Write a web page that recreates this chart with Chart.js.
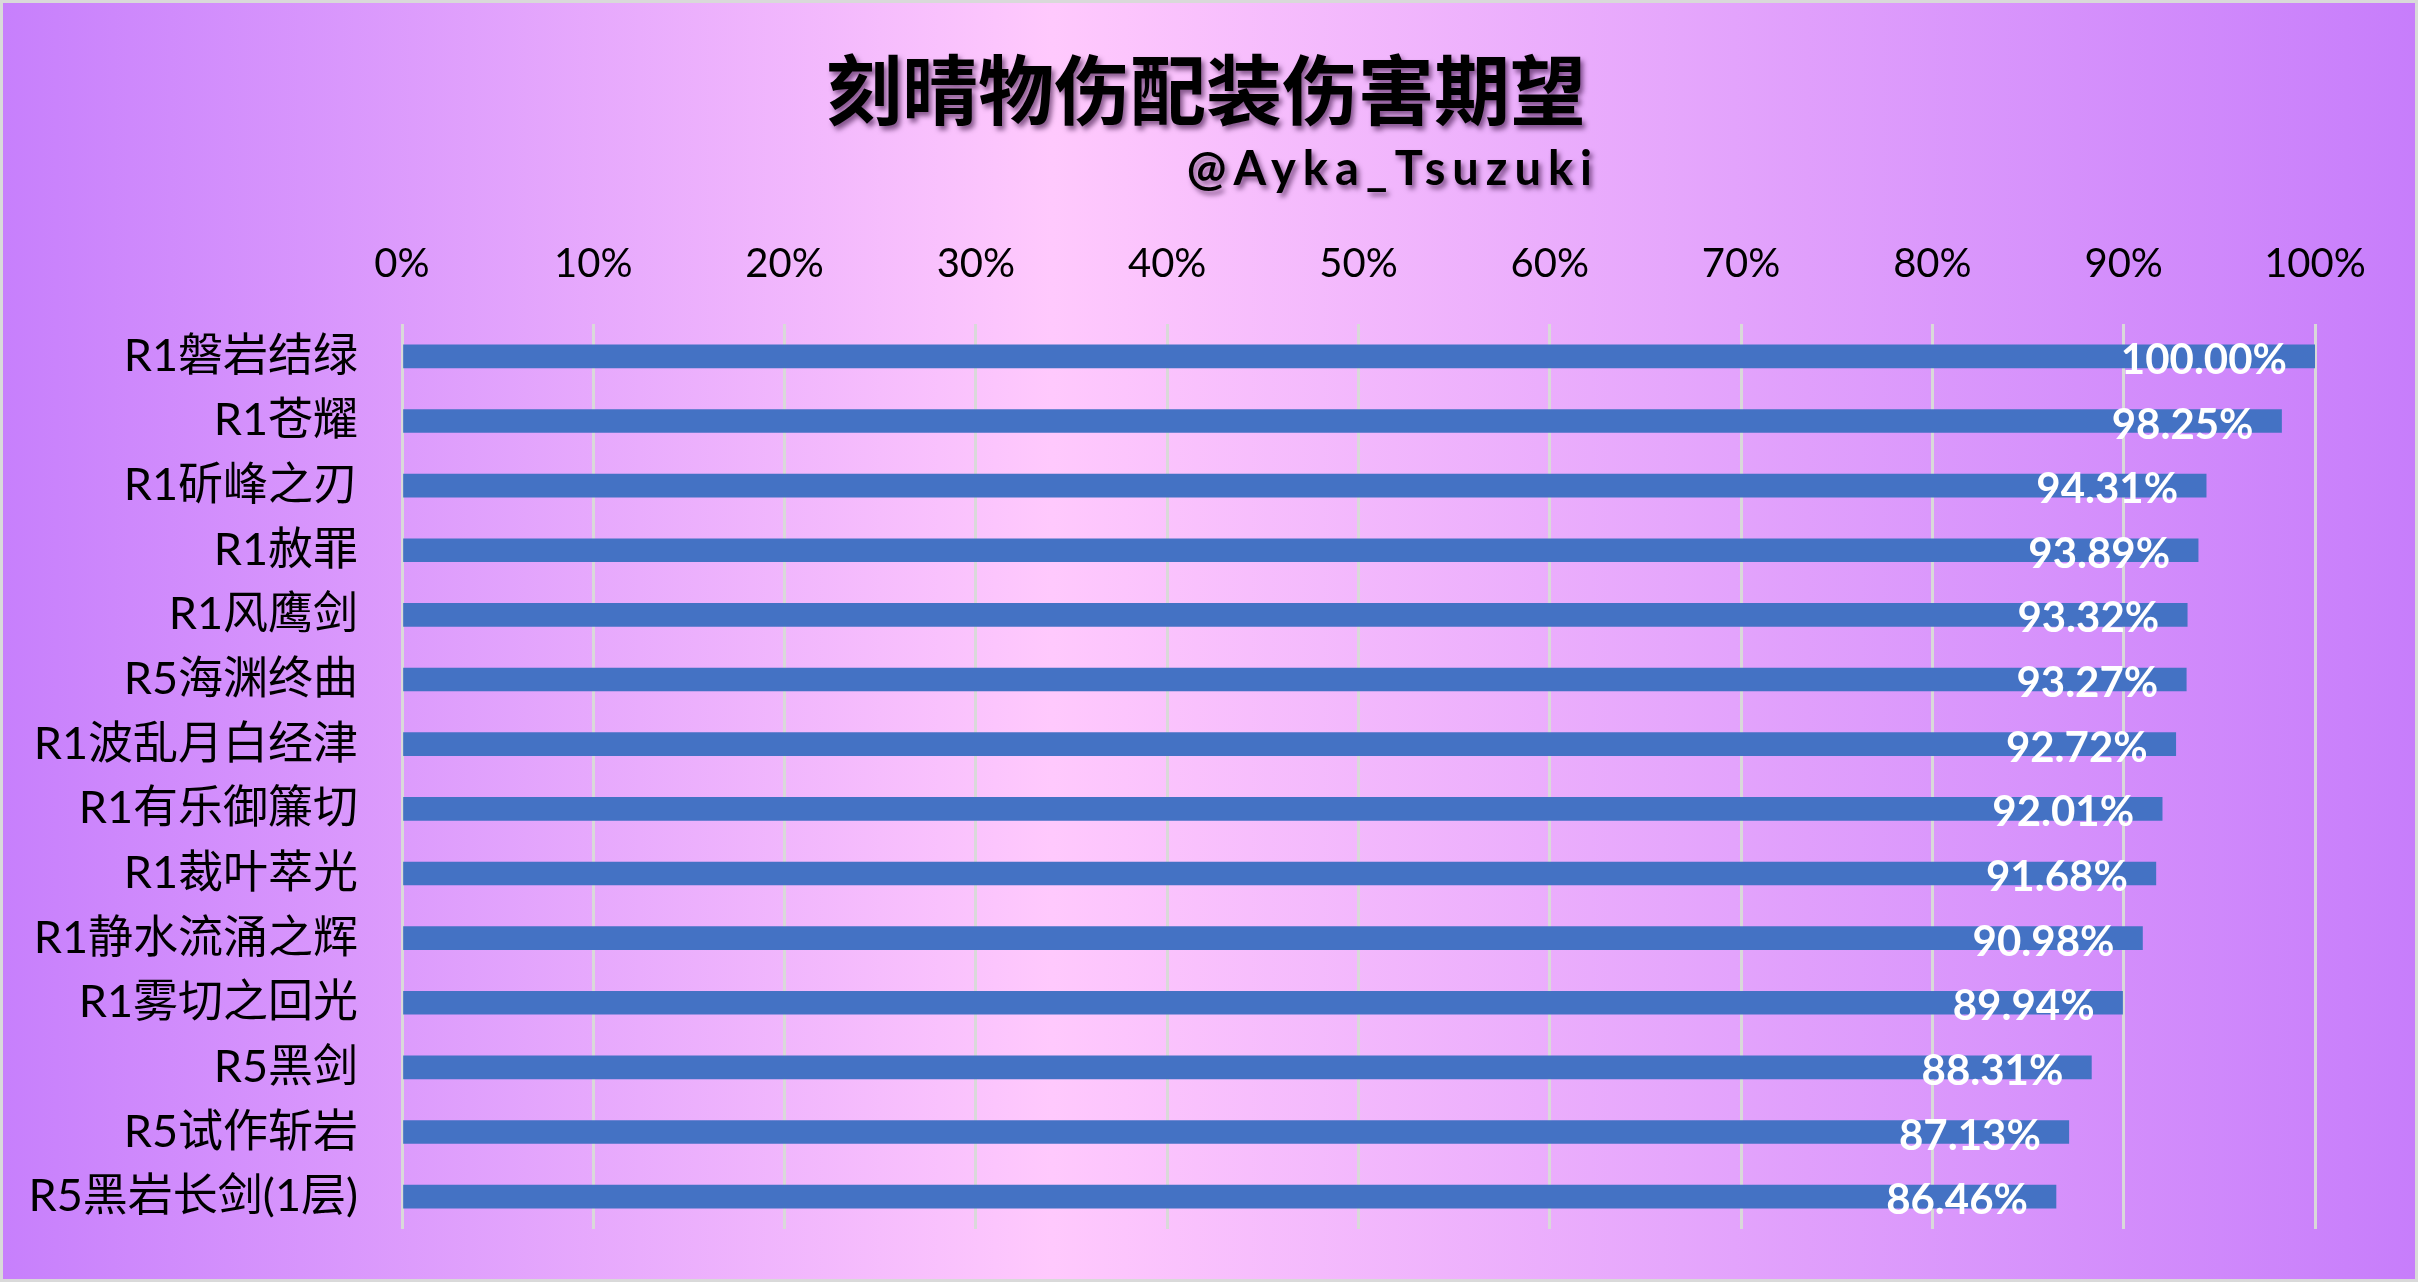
<!DOCTYPE html>
<html>
<head>
<meta charset="utf-8">
<script src="https://cdn.jsdelivr.net/npm/chart.js@4.4.1/dist/chart.umd.min.js"></script>
<style>
  html, body { margin: 0; padding: 0; background: #fff; }
  #wrap { width: 2418px; height: 1282px; position: relative; }
  canvas { display: block; }
</style>
</head>
<body>
<div id="wrap"><canvas id="c" width="2418" height="1282"></canvas></div>
<script>
const titleText = '刻晴物伤配装伤害期望';
const subtitleText = '@Ayka_Tsuzuki';
const categories = [
  'R1磐岩结绿', 'R1苍耀', 'R1斫峰之刃', 'R1赦罪', 'R1风鹰剑', 'R5海渊终曲',
  'R1波乱月白经津', 'R1有乐御簾切', 'R1裁叶萃光', 'R1静水流涌之辉',
  'R1雾切之回光', 'R5黑剑', 'R5试作斩岩', 'R5黑岩长剑(1层)'
];
const damageExpectation = [
  100.00, 98.25, 94.31, 93.89, 93.32, 93.27, 92.72,
  92.01, 91.68, 90.98, 89.94, 88.31, 87.13, 86.46
];
const tickValues = [0, 10, 20, 30, 40, 50, 60, 70, 80, 90, 100];

const bgPlugin = {
  id: 'bg',
  beforeDraw(chart) {
    const ctx = chart.ctx, w = chart.width, h = chart.height;
    ctx.save();
    const g = ctx.createLinearGradient(0, 0, w, 0);
    g.addColorStop(0, '#c77ffc');
    g.addColorStop(0.435, '#ffc9fd');
    g.addColorStop(1, '#c77dfb');
    ctx.fillStyle = g;
    ctx.fillRect(0, 0, w, h);
    ctx.strokeStyle = '#d9d9d9';
    ctx.lineWidth = 3;
    ctx.strokeRect(1.5, 1.5, w - 3, h - 3);
    ctx.restore();
  }
};

const titlePlugin = {
  id: 'titles',
  afterDraw(chart) {
    const ctx = chart.ctx;
    ctx.save();
    ctx.shadowColor = 'rgba(40,0,50,0.55)';
    ctx.shadowOffsetX = 3;
    ctx.shadowOffsetY = 4;
    ctx.shadowBlur = 5;
    ctx.fillStyle = '#000';
    ctx.textBaseline = 'middle';
    ctx.textAlign = 'center';
    ctx.font = 'bold 76px "Noto Sans CJK SC", sans-serif';
    ctx.fillText(titleText, 1206, 90);
    ctx.textAlign = 'right';
    ctx.font = 'bold 47px Lato, "Open Sans", sans-serif';
    if ('letterSpacing' in ctx) ctx.letterSpacing = '7px';
    ctx.fillText(subtitleText, 1599, 170);
    ctx.restore();
  }
};

const valueLabelPlugin = {
  id: 'valueLabels',
  afterDatasetsDraw(chart) {
    const ctx = chart.ctx;
    const meta = chart.getDatasetMeta(0);
    const ds = chart.data.datasets[0].data;
    ctx.save();
    ctx.fillStyle = '#ffffff';
    ctx.font = 'bold 42px Lato, "Open Sans", sans-serif';
    ctx.textAlign = 'right';
    ctx.textBaseline = 'middle';
    meta.data.forEach((el, i) => {
      ctx.fillText(ds[i].toFixed(2) + '%', el.x - 28, el.y + 4);
    });
    ctx.restore();
  }
};

new Chart(document.getElementById('c'), {
  type: 'bar',
  data: {
    labels: categories,
    datasets: [{
      data: damageExpectation,
      backgroundColor: '#4472c4',
      borderWidth: 0,
      barThickness: 23
    }]
  },
  options: {
    indexAxis: 'y',
    responsive: false,
    animation: false,
    devicePixelRatio: 1,
    layout: { padding: { top: 200, left: 0, right: 103, bottom: 53 } },
    plugins: { legend: { display: false }, tooltip: { enabled: false }, title: { display: false } },
    scales: {
      x: {
        position: 'top',
        min: 0,
        max: 100,
        afterBuildTicks(scale) { scale.ticks = tickValues.map(v => ({ value: v })); },
        afterFit(scale) { scale.height = 124; },
        ticks: {
          callback: v => v + '%',
          color: '#000',
          font: { family: 'Lato, "Noto Sans CJK SC", sans-serif', size: 40 },
          padding: 36,
          maxRotation: 0
        },
        grid: { color: '#d9d9d9', lineWidth: 3, drawTicks: false },
        border: { display: false }
      },
      y: {
        afterFit(scale) { scale.width = 402; scale.paddingTop = 0; scale.paddingBottom = 0; },
        ticks: {
          color: '#000',
          font: { family: 'Lato, "Noto Sans CJK SC", sans-serif', size: 45 },
          padding: 44
        },
        grid: { display: false, drawTicks: false },
        border: { display: false }
      }
    }
  },
  plugins: [bgPlugin, valueLabelPlugin, titlePlugin]
});
</script>
</body>
</html>
